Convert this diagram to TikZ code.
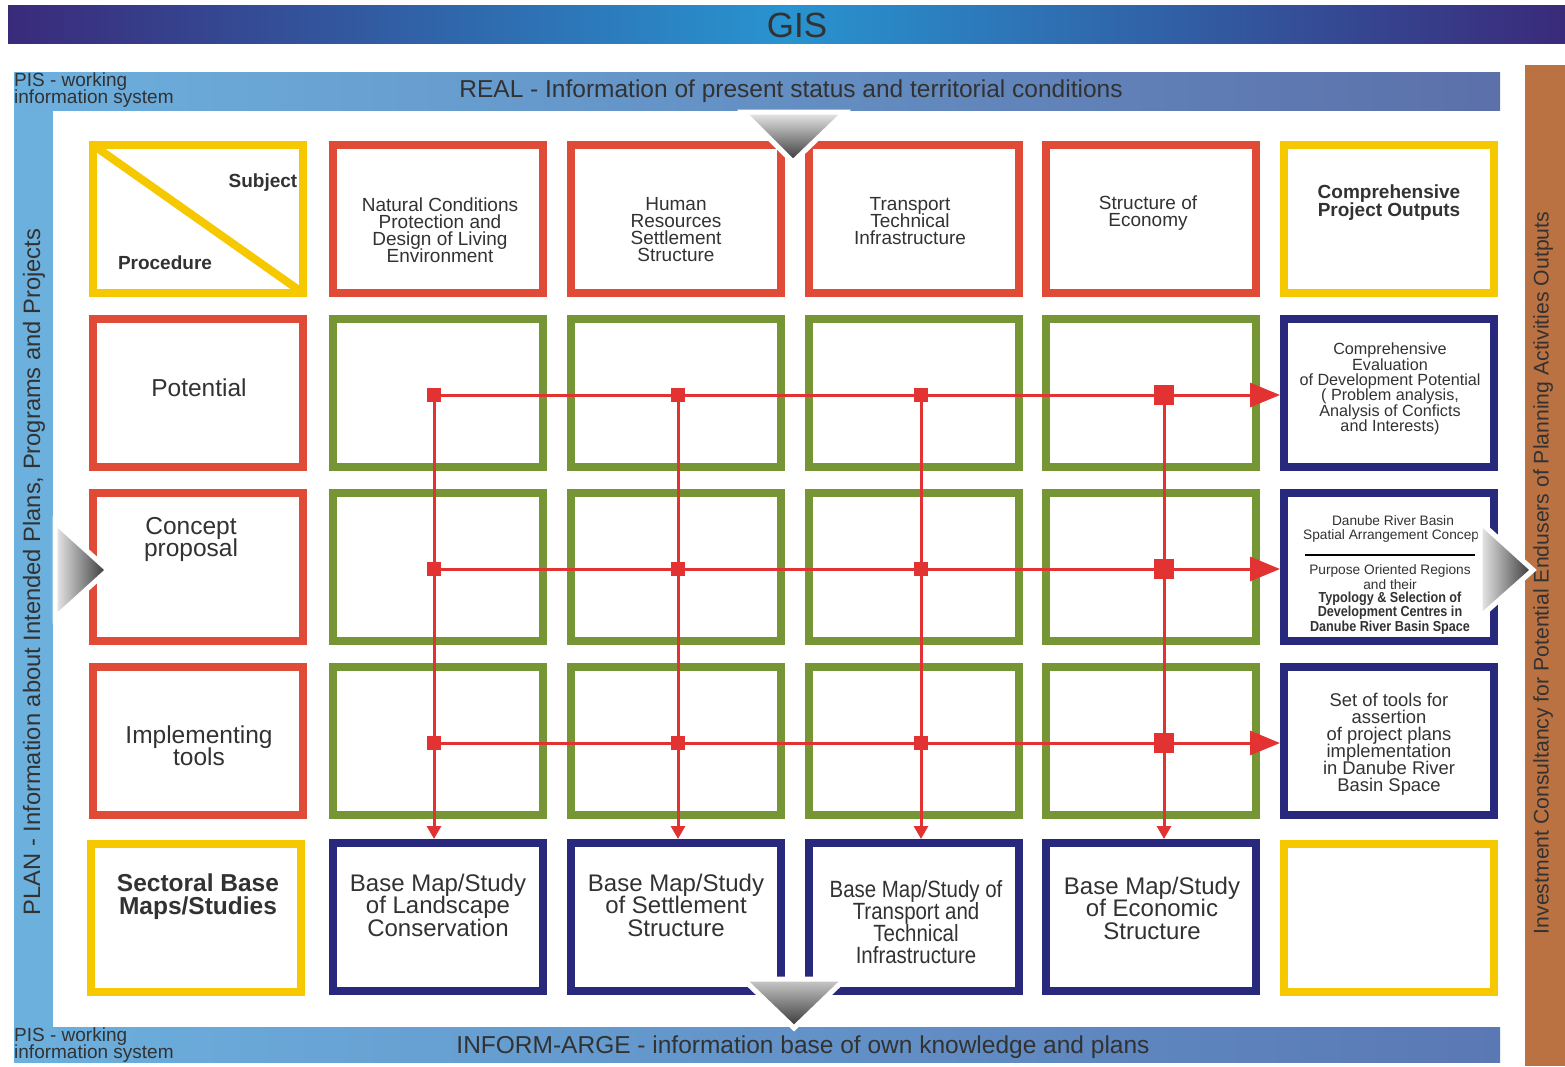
\documentclass[tikz,border=0pt]{standalone}
\usepackage{fontspec}
\setmainfont{Liberation Sans}
\newfontfamily\narrowsans[FakeStretch=0.87]{Liberation Sans}
\usetikzlibrary{arrows.meta,calc}
\definecolor{boxred}{RGB}{224,75,56}
\definecolor{boxgreen}{RGB}{118,150,54}
\definecolor{boxnavy}{RGB}{40,40,125}
\definecolor{boxyel}{RGB}{246,200,0}
\definecolor{linkred}{RGB}{226,50,50}
\definecolor{txt}{RGB}{50,50,50}
\definecolor{gisend}{RGB}{58,42,122}
\definecolor{gismid}{RGB}{40,148,208}
\definecolor{bandlight}{RGB}{108,176,222}
\definecolor{bandtop}{RGB}{92,112,170}
\definecolor{bandbot}{RGB}{90,120,180}
\definecolor{orangeband}{RGB}{187,114,66}
\newcommand{\fsz}[2]{\fontsize{#1}{#2}\selectfont\lineskiplimit=-100pt\lineskip=0pt}
\tikzset{
  cell/.style={draw=#1, fill=white, line width=8pt, minimum width=210pt, minimum height=148pt, inner sep=0pt},
  lbl/.style={text=txt, align=center, inner sep=0pt},
  jn/.style={fill=linkred, minimum size=#1, inner sep=0pt},
  link/.style={draw=linkred, line width=3pt},
  tri/.style={draw=white, line width=5pt}
}
\begin{document}
\begin{tikzpicture}[x=1pt,y=-1pt]
\useasboundingbox (0,0) rectangle (1565,1066);
\shade[left color=gisend, right color=gisend, middle color=gismid] (8,5) rectangle (1565,43);
\node[lbl, font=\fsz{35}{35}] (gis) at (797,25) {GIS};
\fill[bandlight] (14,72) rectangle (53,1062);
\shade[left color=bandlight, right color=bandtop] (14,72) rectangle (1500,110);
\shade[left color=bandlight, right color=bandbot] (14,1027) rectangle (1500,1062);
\fill[orangeband] (1525,65) rectangle (1565,1066);
\node[lbl, font=\fsz{24.5}{24}] (real) at (791,91) {REAL - Information of present status and territorial conditions};
\node[lbl, font=\fsz{24.5}{24}] (inform) at (803,1047) {INFORM-ARGE - information base of own knowledge and plans};
\node[lbl, align=left, anchor=west, font=\fsz{19}{17}] (pistop) at (14,90) {PIS - working\\information system};
\node[lbl, align=left, anchor=west, font=\fsz{19}{17}] (pisbot) at (14,1045) {PIS - working\\information system};
\node[lbl, rotate=90, font=\fsz{23.7}{24}] (plan) at (34,572) {PLAN - Information about Intended Plans, Programs and Projects};
\node[lbl, rotate=90, font=\fsz{21.2}{21}] (invest) at (1543,573) {Investment Consultancy for Potential Endusers of Planning Activities Outputs};

\node[cell=boxyel] (subj) at (198,219) {};
\draw[boxyel, line width=8pt] ($(subj.north west)+(4,4)$) -- ($(subj.south east)+(-4,-4)$);
\node[lbl, font=\bfseries\fsz{19}{19}] (subjt) at (263,183) {Subject};
\node[lbl, font=\bfseries\fsz{19}{19}] (proct) at (165,263) {Procedure};
\foreach \c/\x in {1/438,2/676,3/914,4/1151}
  \node[cell=boxred] (hd\c) at (\x,219) {};
\node[cell=boxyel] (hd5) at (1389,219) {};
\node[lbl, font=\fsz{19}{17}] (hdt1) at (440,230) {Natural Conditions\\Protection and\\Design of Living\\Environment};
\node[lbl, font=\fsz{19}{17}] (hdt2) at (676,230) {Human\\Resources\\Settlement\\Structure};
\node[lbl, font=\fsz{19}{17}] (hdt3) at (910,221) {Transport\\Technical\\Infrastructure};
\node[lbl, font=\fsz{19}{17}] (hdt4) at (1148,213) {Structure of\\Economy};
\node[lbl, font=\bfseries\fsz{19}{18}] (hdt5) at (1389,203) {Comprehensive\\Project Outputs};

\node[cell=boxred] (pot) at (198,393) {};
\node[cell=boxred] (con) at (198,567) {};
\node[cell=boxred] (imp) at (198,741) {};
\node[cell=boxyel] (sect) at (196,918) {};
\node[lbl, font=\fsz{24.5}{22}] (pott) at (199,388) {Potential};
\node[lbl, font=\fsz{24.5}{22}] (cont) at (191,539) {Concept\\proposal};
\node[lbl, font=\fsz{24.5}{22}] (impt) at (199,746) {Implementing\\tools};
\node[lbl, font=\bfseries\fsz{24.5}{23}] (sectt) at (198,897) {Sectoral Base\\Maps/Studies};

\foreach \c/\x in {1/438,2/676,3/914,4/1151}{
  \foreach \r/\y in {1/393,2/567,3/741}
    \node[cell=boxgreen] (g\r\c) at (\x,\y) {};
  \node[cell=boxnavy] (bm\c) at (\x,917) {};
}
\foreach \r/\y in {1/393,2/567,3/741}
  \node[cell=boxnavy] (out\r) at (1389,\y) {};
\node[cell=boxyel] (outx) at (1389,918) {};

\node[lbl, font=\fsz{16.2}{15.4}] (outt1) at (1390,389) {Comprehensive\\Evaluation\\of Development Potential\\( Problem analysis,\\Analysis of Conficts\\and Interests)};
\node[lbl, font=\fsz{13.7}{14}] (outt2a) at (1393,529) {Danube River Basin\\Spatial Arrangement Concept};
\draw[black, line width=2pt] (1305,555) -- (1475,555);
\node[lbl, font=\fsz{13.7}{14.2}] (outt2b) at (1390,577) {Purpose Oriented Regions\\and their};
\node[lbl, font=\bfseries\narrowsans\fsz{14.5}{14.5}] (outt2c) at (1390,613) {Typology \& Selection of\\Development Centres in\\Danube River Basin Space};
\node[lbl, font=\fsz{18.4}{17}] (outt3) at (1389,744) {Set of tools for\\assertion\\of project plans\\implementation\\in Danube River\\Basin Space};

\node[lbl, font=\fsz{24}{22.5}] (bmt1) at (438,905) {Base Map/Study\\of Landscape\\Conservation};
\node[lbl, font=\fsz{24}{22.5}] (bmt2) at (676,905) {Base Map/Study\\of Settlement\\Structure};
\node[lbl, font=\narrowsans\fsz{23.5}{22}] (bmt3) at (916,922) {Base Map/Study of\\Transport and\\Technical\\Infrastructure};
\node[lbl, font=\fsz{24}{22.5}] (bmt4) at (1152,908) {Base Map/Study\\of Economic\\Structure};

\foreach \r/\y in {1/395,2/569,3/743}{
  \foreach \c/\x in {1/434,2/678,3/921}
    \node[jn=14pt] (j\r\c) at (\x,\y) {};
  \node[jn=20pt] (j\r4) at (1164,\y) {};
}
\foreach \r in {1,2,3}{
  \draw[link] (j\r1) -- (j\r4);
  \draw[link, -{Triangle[length=30pt,width=24pt]}] (j\r4) -- (j\r4 -| out\r.west);
}
\foreach \c in {1,...,4}{
  \draw[link] (j1\c) -- (j3\c);
  \draw[link, -{Triangle[length=13pt,width=14pt]}] (j3\c) -- (j3\c |- bm\c.north);
}

\shadedraw[tri, top color=black!8, bottom color=black!80] (743,112) -- (845,112) -- (793,162) -- cycle;
\shadedraw[tri, top color=black!20, bottom color=black!80] (743,979) -- (845,979) -- (794,1028) -- cycle;
\shadedraw[tri, left color=black!8, right color=black!80] (55,522) -- (108,570) -- (55,618) -- cycle;
\shadedraw[tri, left color=black!8, right color=black!80] (1480,522) -- (1533,570) -- (1480,617) -- cycle;
\end{tikzpicture}
\end{document}
